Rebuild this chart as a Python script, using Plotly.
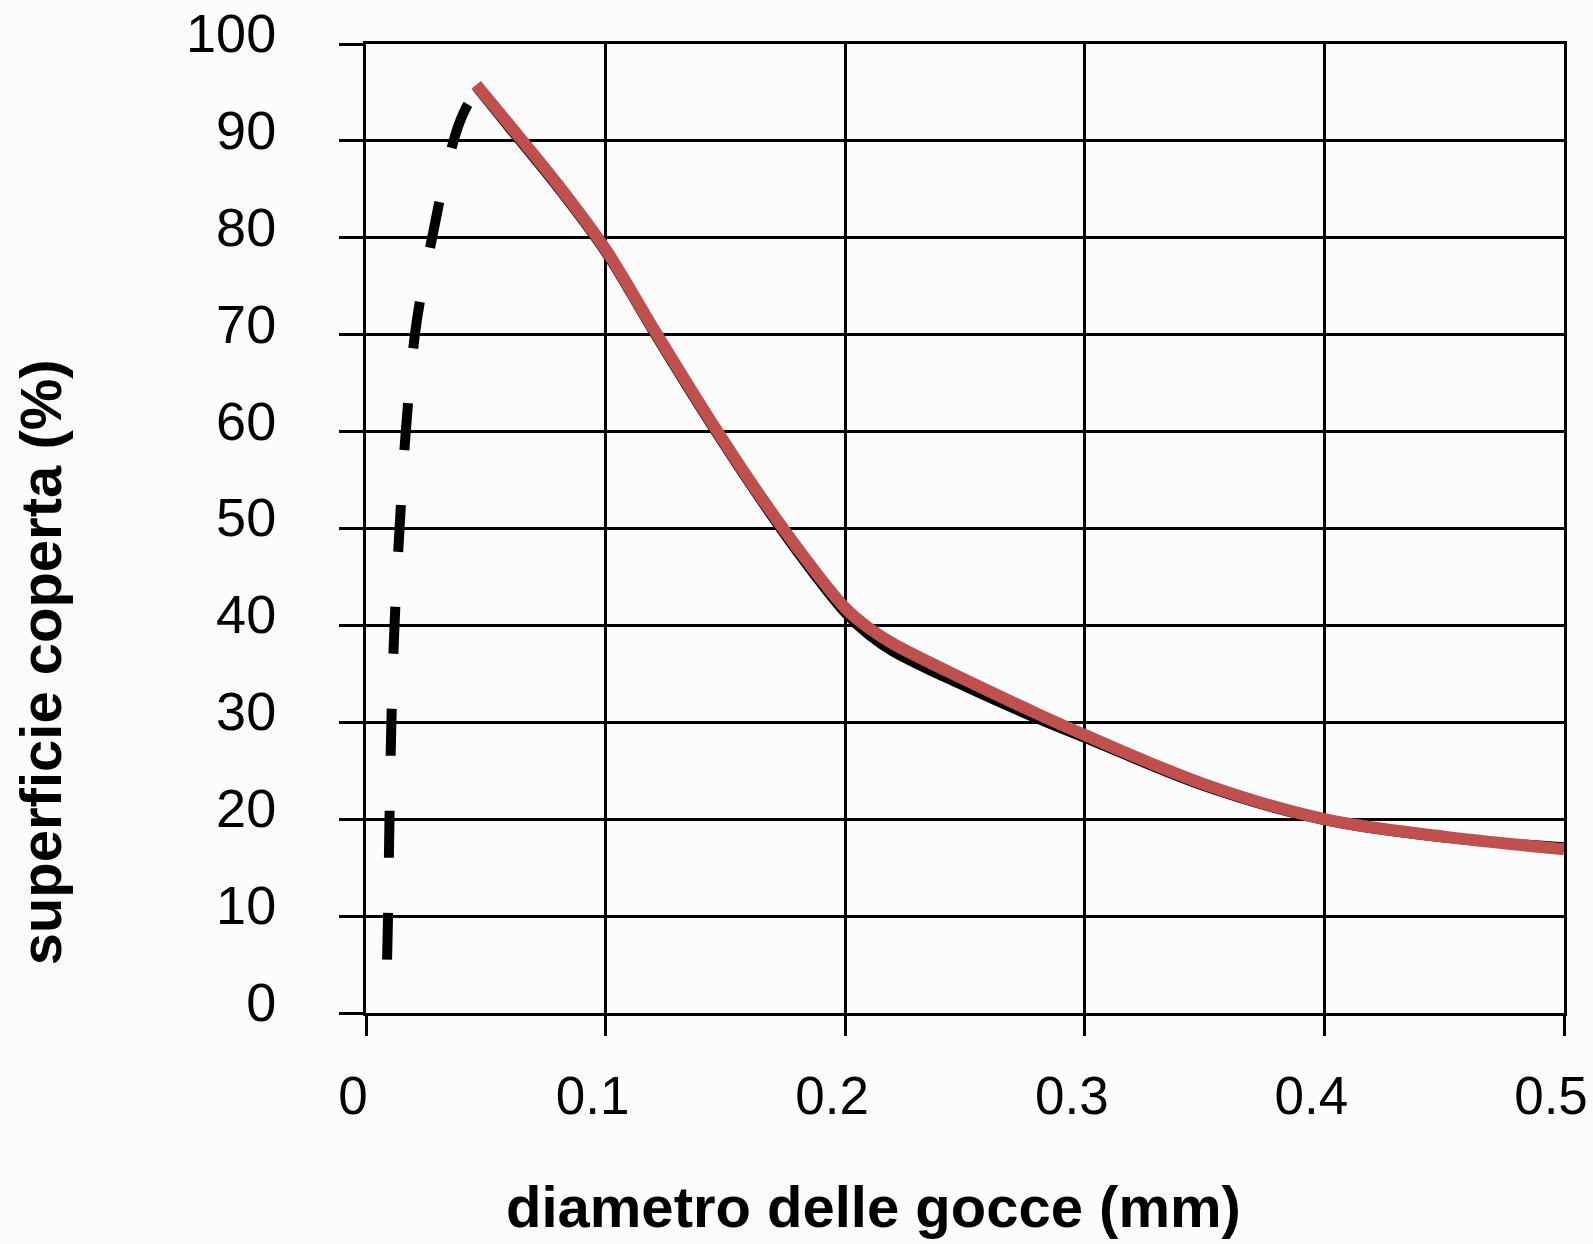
import plotly.graph_objects as go

# curva misurata (rossa, ridisegnata sopra quella originale nera)
diam_red = [0.046, 0.06, 0.08, 0.1, 0.12, 0.14, 0.16, 0.18, 0.2, 0.21, 0.22,
            0.25, 0.28, 0.3, 0.35, 0.4, 0.45, 0.5]
cov_red = [95.8, 91.6, 85.5, 78.8, 70.6, 62.6, 55.0, 48.0, 41.8, 39.7, 38.1,
           34.4, 30.9, 28.7, 23.6, 20.0, 18.2, 16.9]

# curva originale nera sotto la rossa
diam_black = [0.046, 0.06, 0.08, 0.1, 0.12, 0.14, 0.16, 0.18, 0.2, 0.21, 0.22,
              0.25, 0.28, 0.3, 0.35, 0.4, 0.45, 0.5]
cov_black = [95.6, 91.3, 85.2, 78.5, 70.3, 62.3, 54.7, 47.6, 41.3, 39.0, 37.3,
             33.7, 30.4, 28.4, 23.4, 19.9, 18.1, 17.1]

# tratto estrapolato (tratteggiato)
diam_dash = [0.0088, 0.0092, 0.0098, 0.0106, 0.0119, 0.014, 0.0166, 0.0204,
             0.024, 0.028, 0.032, 0.0375, 0.0415, 0.0448]
cov_dash = [5.5, 10, 20, 30, 40, 50, 60, 70, 75.5, 80.5, 85.3, 90.8, 93.3, 94.6]

x_ticks = [0, 0.1, 0.2, 0.3, 0.4, 0.5]
x_labels = ["0", "0.1", "0.2", "0.3", "0.4", "0.5"]
y_ticks = [0, 10, 20, 30, 40, 50, 60, 70, 80, 90, 100]

FONT = "Liberation Sans, Arial, Helvetica, sans-serif"

fig = go.Figure()

fig.add_trace(go.Scatter(
    x=diam_dash, y=cov_dash,
    mode="lines",
    line=dict(color="black", width=10, dash="47px,55px", shape="spline", smoothing=1.0),
    showlegend=False, hoverinfo="skip"
))

fig.add_trace(go.Scatter(
    x=diam_black, y=cov_black,
    mode="lines",
    line=dict(color="black", width=10, shape="spline", smoothing=1.0),
    showlegend=False, hoverinfo="skip"
))

fig.add_trace(go.Scatter(
    x=diam_red, y=cov_red,
    mode="lines",
    line=dict(color="#c0504d", width=12, shape="spline", smoothing=1.0),
    showlegend=False,
    hovertemplate="diametro: %{x} mm<br>superficie: %{y}%<extra></extra>"
))

fig.update_xaxes(
    range=[0, 0.5],
    tickvals=x_ticks,
    ticktext=x_labels,
    ticks="outside", ticklen=20, tickwidth=2.5, tickcolor="black",
    ticklabelstandoff=14, ticklabelshift=-13,
    showgrid=True, gridcolor="black", gridwidth=2.5,
    showline=True, linecolor="black", linewidth=3, mirror=True,
    zeroline=False, automargin=False,
    tickfont=dict(family=FONT, size=53, color="black")
)

fig.update_yaxes(
    range=[0, 100],
    tickvals=y_ticks,
    ticks="outside", ticklen=24, tickwidth=2.5, tickcolor="black",
    ticklabelstandoff=52, ticklabelshift=-11,
    showgrid=True, gridcolor="black", gridwidth=2.5,
    showline=True, linecolor="black", linewidth=3, mirror=True,
    zeroline=False, automargin=False,
    tickfont=dict(family=FONT, size=54, color="black")
)

fig.add_annotation(
    text="diametro delle gocce (mm)",
    xref="paper", yref="paper", x=0.424, y=-0.2,
    xanchor="center", yanchor="middle", showarrow=False,
    font=dict(family=FONT, size=58, color="black", weight="bold")
)

fig.add_annotation(
    text="superficie coperta (%)",
    xref="paper", yref="paper", x=-0.272, y=0.362,
    xanchor="center", yanchor="middle", textangle=-90, showarrow=False,
    font=dict(family=FONT, size=58, color="black", weight="bold")
)

fig.update_layout(
    width=1593, height=1244,
    margin=dict(l=366, r=29, t=44, b=231),
    paper_bgcolor="#fcfcfc",
    plot_bgcolor="#fcfcfc",
    font=dict(family=FONT, color="black")
)

fig.write_html("out.html", config={"displayModeBar": False},
               post_script="document.body.style.margin='0';")
